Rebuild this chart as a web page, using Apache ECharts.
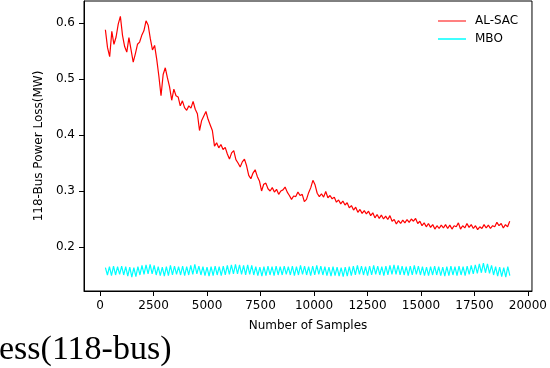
<!DOCTYPE html>
<html>
<head>
<meta charset="utf-8">
<script src="https://cdn.jsdelivr.net/npm/echarts@6/dist/echarts.min.js"></script>
<style>
  html, body { margin: 0; padding: 0; background: #fff; }
  #chart { width: 550px; height: 368px; }
</style>
</head>
<body>
<div id="chart"></div>
<script>
// sample grid of the two curves (Number of Samples)
const redStart = 250;
const redStep = 100;
const mboStart = 250;
const mboStep = 95;

// AL-SAC power loss, one value per redStep samples
const alSac = [
  0.588, 0.556, 0.540, 0.585, 0.562, 0.575, 0.598, 0.612, 0.578, 0.558,
  0.548, 0.574, 0.552, 0.530, 0.545, 0.562, 0.566, 0.578, 0.586, 0.604,
  0.596, 0.572, 0.552, 0.560, 0.535, 0.505, 0.470, 0.508, 0.520, 0.502,
  0.486, 0.462, 0.482, 0.470, 0.468, 0.452, 0.461, 0.449, 0.444, 0.452,
  0.448, 0.460, 0.446, 0.438, 0.408, 0.426, 0.434, 0.442, 0.428, 0.418,
  0.408, 0.380, 0.386, 0.377, 0.383, 0.374, 0.378, 0.366, 0.357, 0.368,
  0.372, 0.356, 0.350, 0.343, 0.352, 0.357, 0.345, 0.328, 0.322, 0.332,
  0.338, 0.326, 0.318, 0.300, 0.312, 0.314, 0.304, 0.300, 0.306, 0.298,
  0.303, 0.294, 0.300, 0.302, 0.307, 0.298, 0.292, 0.285, 0.291, 0.290,
  0.298, 0.292, 0.294, 0.281, 0.285, 0.297, 0.306, 0.319, 0.311, 0.296,
  0.290, 0.295, 0.289, 0.299, 0.288, 0.292, 0.286, 0.289, 0.280, 0.284,
  0.277, 0.282, 0.275, 0.279, 0.270, 0.274, 0.266, 0.271, 0.262, 0.267,
  0.260, 0.265, 0.259, 0.264, 0.256, 0.261, 0.252, 0.258, 0.251, 0.257,
  0.250, 0.255, 0.249, 0.256, 0.246, 0.249, 0.241, 0.247, 0.242, 0.248,
  0.243, 0.249, 0.244, 0.250, 0.246, 0.251, 0.242, 0.246, 0.238, 0.243,
  0.236, 0.242, 0.235, 0.240, 0.232, 0.238, 0.233, 0.239, 0.234, 0.240,
  0.233, 0.239, 0.232, 0.238, 0.236, 0.243, 0.232, 0.238, 0.234, 0.242,
  0.235, 0.240, 0.233, 0.238, 0.231, 0.236, 0.233, 0.240, 0.234, 0.239,
  0.233, 0.238, 0.236, 0.244, 0.238, 0.242, 0.234, 0.240, 0.236, 0.246
];

// MBO power loss, one value per mboStep samples
const mbo = [
  0.163, 0.150, 0.165, 0.149, 0.166, 0.150, 0.165, 0.151, 0.166, 0.150,
  0.165, 0.148, 0.164, 0.146, 0.163, 0.147, 0.165, 0.150, 0.167, 0.151,
  0.168, 0.152, 0.169, 0.152, 0.167, 0.150, 0.165, 0.149, 0.164, 0.148,
  0.165, 0.149, 0.167, 0.150, 0.166, 0.151, 0.165, 0.150, 0.166, 0.149,
  0.165, 0.150, 0.167, 0.151, 0.169, 0.152, 0.166, 0.150, 0.165, 0.149,
  0.164, 0.148, 0.165, 0.149, 0.166, 0.150, 0.165, 0.149, 0.166, 0.150,
  0.167, 0.151, 0.168, 0.152, 0.169, 0.152, 0.168, 0.151, 0.167, 0.150,
  0.168, 0.151, 0.167, 0.150, 0.165, 0.149, 0.164, 0.148, 0.165, 0.149,
  0.166, 0.150, 0.165, 0.149, 0.166, 0.150, 0.165, 0.150, 0.166, 0.151,
  0.165, 0.150, 0.166, 0.149, 0.165, 0.150, 0.167, 0.151, 0.166, 0.150,
  0.165, 0.149, 0.166, 0.150, 0.167, 0.151, 0.166, 0.150, 0.165, 0.149,
  0.164, 0.148, 0.165, 0.149, 0.164, 0.148, 0.163, 0.147, 0.164, 0.148,
  0.165, 0.149, 0.166, 0.150, 0.167, 0.151, 0.166, 0.150, 0.165, 0.149,
  0.166, 0.150, 0.167, 0.151, 0.166, 0.150, 0.165, 0.149, 0.166, 0.150,
  0.167, 0.151, 0.168, 0.151, 0.167, 0.150, 0.166, 0.150, 0.165, 0.149,
  0.166, 0.150, 0.167, 0.151, 0.166, 0.150, 0.165, 0.149, 0.164, 0.149,
  0.165, 0.150, 0.166, 0.150, 0.165, 0.149, 0.164, 0.148, 0.165, 0.149,
  0.166, 0.150, 0.165, 0.149, 0.166, 0.150, 0.165, 0.149, 0.166, 0.151,
  0.167, 0.152, 0.168, 0.153, 0.170, 0.154, 0.171, 0.154, 0.170, 0.153,
  0.167, 0.150, 0.165, 0.148, 0.164, 0.147, 0.163, 0.146, 0.165, 0.149
];

const xTicks = [0, 2500, 5000, 7500, 10000, 12500, 15000, 17500, 20000];
const yTicks = [0.2, 0.3, 0.4, 0.5, 0.6];

const font = "DejaVu Sans";

const chart = echarts.init(document.getElementById("chart"), null, { renderer: "canvas" });

chart.setOption({
  animation: false,
  backgroundColor: "#fff",
  grid: {
    left: 84,
    right: 18,
    top: 1,
    bottom: 77,
    show: true,
    borderColor: "#000",
    borderWidth: 1,
  },
  legend: {
    orient: "vertical",
    left: 433,
    top: 10,
    itemWidth: 28,
    itemHeight: 2,
    itemGap: 6,
    icon: "rect",
    textStyle: { fontFamily: font, fontSize: 12, color: "#000", padding: [0, 0, 0, 4] },
    data: [
      { name: "AL-SAC", itemStyle: { color: "#ff8080" } },
      { name: "MBO", itemStyle: { color: "#40ffff" } },
    ],
  },
  xAxis: {
    type: "value",
    min: -750,
    max: 20190,
    name: "Number of Samples",
    nameLocation: "middle",
    nameGap: 29,
    nameTextStyle: { fontFamily: font, fontSize: 12, color: "#000" },
    axisLine: { show: true, onZero: false, lineStyle: { color: "#000", width: 1 } },
    axisTick: {
      show: true,
      inside: false,
      length: 5,
      customValues: xTicks,
      lineStyle: { color: "#000", width: 1 },
    },
    axisLabel: {
      customValues: xTicks,
      margin: 9,
      fontFamily: font,
      fontSize: 12,
      color: "#000",
      formatter: (v) => String(v),
    },
    splitLine: { show: false },
  },
  yAxis: {
    type: "value",
    min: 0.1214,
    max: 0.6393,
    name: "118-Bus Power Loss(MW)",
    nameLocation: "middle",
    nameGap: 31,
    nameTextStyle: { fontFamily: font, fontSize: 12, color: "#000" },
    axisLine: { show: true, onZero: false, lineStyle: { color: "#000", width: 1 } },
    axisTick: {
      show: true,
      inside: false,
      length: 5,
      customValues: yTicks,
      lineStyle: { color: "#000", width: 1 },
    },
    axisLabel: {
      customValues: yTicks,
      margin: 9,
      fontFamily: font,
      fontSize: 12,
      color: "#000",
      formatter: (v) => v.toFixed(1),
    },
    splitLine: { show: false },
  },
  series: [
    {
      name: "AL-SAC",
      type: "line",
      showSymbol: false,
      symbol: "none",
      lineStyle: { color: "#ff0000", width: 1.2 },
      itemStyle: { color: "#ff8080" },
      data: alSac.map((v, i) => [redStart + i * redStep, v]),
    },
    {
      name: "MBO",
      type: "line",
      showSymbol: false,
      symbol: "none",
      lineStyle: { color: "#00ffff", width: 1.2 },
      itemStyle: { color: "#40ffff" },
      data: mbo.map((v, i) => [mboStart + i * mboStep, v]),
    },
  ],
  graphic: [
    {
      type: "text",
      left: -1,
      top: 333,
      style: {
        text: "ess(118-bus)",
        font: '34px "Liberation Serif"',
        fill: "#000",
      },
    },
  ],
});
</script>
</body>
</html>
